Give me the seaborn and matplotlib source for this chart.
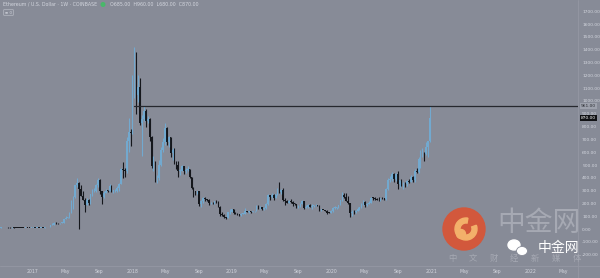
import numpy as np
import pandas as pd
import matplotlib
matplotlib.use("Agg")
import matplotlib.pyplot as plt
import matplotlib.dates as mdates
import matplotlib.patches as mpatches
from matplotlib.transforms import IdentityTransform
import seaborn as sns

# ---------------- data (weekly ETH/USD candles) ----------------
first_open = 11.5
close_2016 = [12.0, 12.7, 12.9, 13.2, 12.0, 11.9, 11.9, 11.2, 10.9, 10.1, 9.6, 8.6, 7.7, 8.3, 7.8, 7.2, 8.0]
high_2016 = [12.4, 13.3, 13.4, 13.6, 13.3, 12.3, 12.2, 12.0, 11.3, 11.1, 10.3, 9.9, 8.8, 8.6, 8.4, 7.9, 8.2]
low_2016 = [11.3, 11.8, 12.2, 12.6, 11.7, 11.5, 11.6, 11.0, 10.5, 9.8, 9.3, 8.3, 7.4, 7.4, 7.6, 6.9, 7.0]

close_2017 = [9.9, 9.8, 10.7, 10.6, 11.4, 11.3, 12.8, 13.2, 19.3, 28.8, 32.0, 50, 44, 43.2, 48, 50, 79, 88, 90,
              124, 172, 251, 340, 360, 314, 260, 230, 190, 225, 200, 270, 300, 300, 340, 380, 295, 250, 285, 300,
              297, 337, 296, 298, 300, 318, 355, 470, 460, 450, 690, 760, 750]
high_2017 = [10.3, 11, 11, 11, 11.6, 11.6, 13.2, 13.5, 19.5, 30, 44, 53, 52, 47, 50, 51, 80, 98, 92, 130, 230, 255,
             345, 400, 370, 340, 300, 240, 240, 235, 275, 315, 320, 350, 395, 390, 300, 300, 310, 305, 350, 340, 305,
             310, 335, 360, 480, 520, 480, 720, 870, 780]
low_2017 = [7.9, 9.5, 9.6, 10.4, 10.5, 10.9, 11.2, 12.4, 13.1, 18, 28, 31, 42, 40, 42, 46, 49, 75, 85, 88, 123, 160,
            240, 330, 0.1, 255, 225, 130, 185, 185, 195, 255, 290, 290, 330, 270, 195, 245, 280, 290, 295, 290, 280,
            290, 290, 300, 350, 400, 410, 440, 600, 650]

close_2018 = [1150, 1370, 1050, 1110, 830, 860, 920, 840, 860, 720, 490, 520, 395, 400, 500, 620, 680, 790, 680, 715,
              590, 620, 525, 500, 455, 455, 490, 450, 460, 465, 405, 320, 295, 275, 295, 196, 220, 245, 232, 225, 200,
              205, 200, 215, 212, 175, 116, 113, 91, 84, 130, 133, 155]
high_2018 = [1200, 1420, 1380, 1200, 1180, 890, 960, 940, 880, 870, 730, 570, 535, 420, 540, 640, 710, 830, 800, 725,
             720, 630, 630, 530, 530, 470, 500, 490, 480, 490, 470, 410, 330, 300, 300, 300, 225, 250, 250, 235, 235,
             210, 210, 220, 225, 215, 180, 130, 120, 95, 135, 160, 160]
low_2018 = [740, 1020, 900, 990, 810, 570, 840, 800, 830, 690, 480, 450, 370, 360, 380, 495, 600, 660, 660, 640, 560,
            540, 510, 470, 410, 420, 450, 430, 440, 450, 400, 310, 250, 265, 270, 180, 170, 200, 215, 215, 190, 195,
            195, 196, 205, 170, 100, 105, 85, 81, 83, 115, 130]

close_2019 = [125, 118, 115, 107, 118, 120, 137, 132, 134, 132, 137, 140, 165, 164, 172, 158, 162, 195, 262, 250, 268,
              244, 270, 295, 292, 305, 226, 222, 205, 222, 208, 196, 195, 172, 181, 198, 215, 167, 170, 190, 173, 180,
              185, 185, 183, 150, 151, 148, 141, 128, 127, 143]
high_2019 = [160, 132, 122, 118, 125, 125, 165, 140, 140, 140, 142, 142, 185, 185, 180, 175, 175, 200, 275, 268, 285,
             270, 275, 320, 365, 315, 320, 240, 225, 230, 235, 215, 200, 195, 185, 200, 225, 220, 185, 197, 195, 198,
             190, 195, 190, 185, 158, 152, 150, 145, 135, 145]
low_2019 = [115, 115, 110, 100, 103, 115, 118, 130, 125, 128, 130, 132, 139, 157, 160, 150, 150, 160, 190, 225, 240,
            230, 240, 265, 285, 270, 220, 190, 200, 203, 205, 180, 185, 165, 168, 175, 195, 155, 165, 168, 170, 160,
            175, 180, 178, 140, 140, 145, 140, 117, 125, 125]

close_2020 = [166, 168, 170, 190, 223, 265, 248, 218, 200, 124, 132, 131, 143, 158, 170, 197, 211, 187, 199, 207, 244,
              243, 234, 228, 225, 241, 239, 232, 310, 385, 390, 428, 390, 428, 350, 380, 345, 355, 350, 375, 367, 405,
              382, 453, 447, 548, 570, 590, 588, 640, 685, 870]
high_2020 = [172, 180, 172, 190, 225, 290, 285, 280, 255, 205, 150, 150, 150, 175, 175, 200, 227, 215, 205, 215, 247,
             253, 250, 240, 248, 245, 248, 245, 320, 395, 415, 445, 435, 440, 450, 385, 390, 370, 365, 380, 390, 420,
             415, 470, 475, 560, 620, 630, 600, 680, 690, 960]
low_2020 = [135, 160, 155, 165, 185, 220, 240, 215, 195, 90, 105, 120, 125, 140, 145, 165, 190, 170, 180, 195, 200,
            225, 225, 225, 220, 220, 235, 228, 230, 305, 370, 375, 370, 375, 310, 330, 335, 310, 330, 335, 360, 365,
            370, 370, 440, 440, 480, 560, 535, 580, 565, 680]

level_price = 961          # horizontal resistance line
level_start = "2018-01-08"
y_tick_values = list(range(-200, 1800, 100))
x_tick_dates = ["2017-01-01", "2017-05-01", "2017-09-01", "2018-01-01", "2018-05-01", "2018-09-01",
                "2019-01-01", "2019-05-01", "2019-09-01", "2020-01-01", "2020-05-01", "2020-09-01",
                "2021-01-01", "2021-05-01", "2021-09-01", "2022-01-01", "2022-05-01"]
x_tick_labels = ["2017", "May", "Sep", "2018", "May", "Sep", "2019", "May", "Sep", "2020", "May", "Sep",
                 "2021", "May", "Sep", "2022", "May"]
title_text = "Ethereum / U.S. Dollar · 1W · COINBASE"
ohlc_text = "O685.00  H960.00  L680.00  C870.00"

# ---------------- build frame ----------------
close = close_2016 + close_2017 + close_2018 + close_2019 + close_2020
high = high_2016 + high_2017 + high_2018 + high_2019 + high_2020
low = low_2016 + low_2017 + low_2018 + low_2019 + low_2020
opens = [first_open] + close[:-1]
dates = pd.date_range("2016-09-05", periods=len(close), freq="W-MON")
df = pd.DataFrame(dict(date=dates, open=opens, high=high, low=low, close=close))
df["up"] = df["close"] >= df["open"]

BG = "#878b97"
UP = "#72a9cf"
DOWN = "#15171c"
TXT = "#d3d6de"

sns.set_theme(style="white")
plt.rcParams["font.family"] = ["DejaVu Sans", "Noto Sans CJK SC"]

W, H = 600, 278
fig = plt.figure(figsize=(W / 100, H / 100), dpi=100)
fig.patch.set_facecolor(BG)
ax = fig.add_axes([0, 12 / H, 578 / W, 266 / H])
ax.set_facecolor(BG)

x = mdates.date2num(df["date"])
cols = np.where(df["up"], UP, DOWN)
lo = np.minimum(df["low"], np.minimum(df["open"], df["close"]))
hi = np.maximum(df["high"], np.maximum(df["open"], df["close"]))
ax.vlines(x, lo, hi, colors=cols, lw=0.8)
body = (df["close"] - df["open"]).abs().clip(lower=5)
ax.bar(x, body, bottom=np.minimum(df["open"], df["close"]), width=5.4, color=cols, linewidth=0)

xmin = mdates.date2num(pd.Timestamp("2016-09-02"))
xmax = mdates.date2num(pd.Timestamp("2022-06-24"))
line_df = pd.DataFrame({"x": [mdates.date2num(pd.Timestamp(level_start)), xmax], "y": [level_price, level_price]})
sns.lineplot(data=line_df, x="x", y="y", ax=ax, color="#26282e", lw=0.9)

ax.set_xlim(xmin, xmax)
ax.set_ylim(-289, 1789)
ax.set_xlabel("")
ax.set_ylabel("")
for s in ax.spines.values():
    s.set_visible(False)

ax.set_xticks(mdates.date2num(pd.to_datetime(x_tick_dates)))
ax.set_xticklabels(x_tick_labels)
ax.tick_params(axis="x", length=0, pad=2.2, labelsize=3.3, labelcolor=TXT)
ax.yaxis.tick_right()
ax.set_yticks(y_tick_values)
ax.set_yticklabels([f"{v:.2f}" for v in y_tick_values])
ax.tick_params(axis="y", length=0, pad=3, labelsize=3.2, labelcolor=TXT)

# separators of the price/time scales
fig.add_artist(plt.Line2D([578 / W, 578 / W], [0, 1], color="#9598a3", lw=0.6))
fig.add_artist(plt.Line2D([0, 1], [12 / H, 12 / H], color="#9598a3", lw=0.6))

# price labels on the right scale
def px_y(v):
    return 229 - v * 0.128

for val, fc, tc, txt in [(level_price, "#9ea2ad", "#2b2d33", f"{level_price:.2f}"),
                         (df["close"].iloc[-1], "#101114", "#ffffff", f"{df['close'].iloc[-1]:.2f}")]:
    yy = px_y(val)
    fig.text(581 / W, 1 - yy / H, txt, fontsize=3.2, color=tc, va="center", ha="left",
             bbox=dict(boxstyle="square,pad=0.25", fc=fc, ec="none"))

# header
fig.text(3 / W, 1 - 4.5 / H, title_text, fontsize=3.4, color=TXT, va="center", ha="left")
fig.add_artist(mpatches.Circle((103, H - 4.5), 1.8, transform=IdentityTransform(), color="#49b86a"))
fig.text(110 / W, 1 - 4.5 / H, ohlc_text, fontsize=3.4, color=TXT, va="center", ha="left")
fig.add_artist(mpatches.FancyBboxPatch((4, H - 15), 9, 5, boxstyle="round,pad=0.3",
                                       transform=IdentityTransform(), fc="none", ec="#b8bbc4", lw=0.5))
fig.text(8.5 / W, 1 - 12.5 / H, "≡ 0", fontsize=2.8, color=TXT, va="center", ha="center")

# watermark (中金网)
FAINT = "#a6a9b3"
fig.add_artist(mpatches.Circle((464, H - 229), 21, transform=IdentityTransform(), color="#d2583c"))
fig.add_artist(mpatches.Wedge((466, H - 229), 11, 80, 380, width=5, transform=IdentityTransform(),
                              color="#f3b06a"))
fig.add_artist(mpatches.Circle((461, H - 234), 4.5, transform=IdentityTransform(), color="#f3b06a"))
fig.text(539 / W, 1 - 223 / H, "中金网", fontsize=20, color=FAINT, ha="center", va="center",
         family=["Noto Sans CJK SC", "DejaVu Sans"])
for i, ch in enumerate("中文财经新媒体"):
    fig.text((452 + i * 20.8) / W, 1 - 258 / H, ch, fontsize=6, color=FAINT, ha="center", va="center",
             family=["Noto Sans CJK SC", "DejaVu Sans"])
fig.add_artist(mpatches.Ellipse((514, H - 245), 12, 10, transform=IdentityTransform(), color="white"))
fig.add_artist(mpatches.Ellipse((522, H - 251), 11, 9, transform=IdentityTransform(), color="white",
                                ec="#878b97", lw=0.6))
fig.text(558 / W, 1 - 248 / H, "中金网", fontsize=10, color="white", ha="center", va="center",
         family=["Noto Sans CJK SC", "DejaVu Sans"])

fig.savefig("out.png", dpi=100, facecolor=BG)
